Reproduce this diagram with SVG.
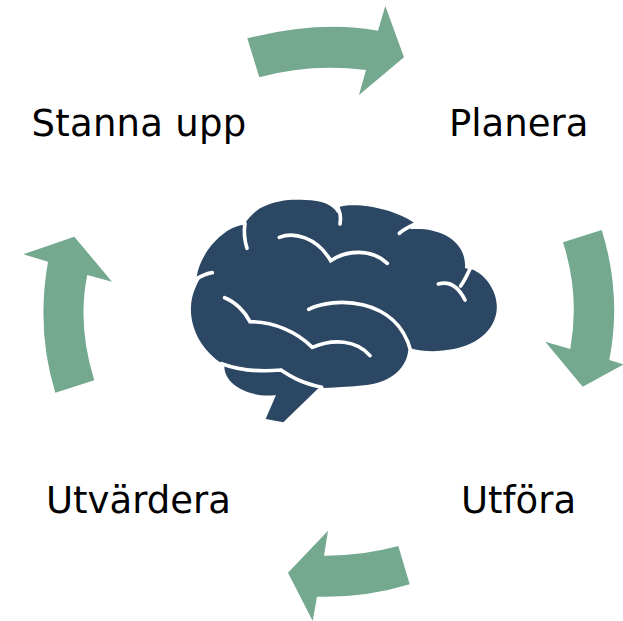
<svg xmlns="http://www.w3.org/2000/svg" width="623" height="621" viewBox="0 0 623 621">
<style>
.arrow{fill:#74a98f}
.label{font-family:"DejaVu Sans",Verdana,sans-serif;font-size:37px;fill:#000}
.groove{fill:none;stroke:#fff;stroke-width:11;stroke-linecap:round;stroke-linejoin:miter}
</style>
<rect width="623" height="621" fill="#fff"/>
<g id="connectors">
<path class="arrow" d="M247.3 38.3Q320 20 378 30.7L385.3 6L404 57.3L359 95L366 70Q310 63 259.3 77.3Z"/>
<path class="arrow" d="M563 242.3L601.7 230Q622 295 609.3 360L623 364.3V364.8L582.7 386.7L545.3 341.7L570.3 349Q580 295 563 242.3Z"/>
<path class="arrow" d="M398.3 546L409.7 584.3Q365 598 317 596.7L312.7 621L288 572.7L328 530.7L324 555.7Q362 556 398.3 546Z"/>
<path class="arrow" d="M55.3 392.7L94.3 380.3Q77 325 87.3 275L112 281.7L74.3 236.7L23.3 254.3L48 261.7Q36 330 55.3 392.7Z"/>
</g>
<g id="brain" transform="translate(180 190) scale(.33333)">
<path fill="#2b4764" d="M190 105C205 90 205 80 240 55C290 28 340 28 375 30C425 30 460 45 472 70L480 50C540 35 650 60 705 100L690 118C760 110 860 140 855 235L875 238C920 255 955 310 950 360C945 420 890 470 800 480C760 487 720 482 697 476L685 480C680 530 640 575 560 585C510 591 460 592 415 595L310 697L257 687L288 615C220 625 130 590 133 525C60 480 30 410 33 350C35 310 50 285 60 265L50 260C60 190 130 110 190 105Z"/>
<path class="groove" d="M195 100C190 130 195 155 201 175"/>
<path class="groove" d="M470 47C482 65 483 85 480 102"/>
<path class="groove" d="M715 97C690 110 670 118 658 130"/>
<path class="groove" d="M298 142C340 125 410 140 452 212C500 180 575 175 622 220"/>
<path class="groove" d="M40 272C60 260 80 250 97 248"/>
<path class="groove" d="M872 232C862 255 855 270 842 288"/>
<path class="groove" d="M775 282C810 272 835 290 855 330"/>
<path class="groove" d="M134 323C165 335 195 365 210 395C280 395 350 425 397 472C460 445 530 450 570 497"/>
<path class="groove" d="M386 358C460 320 650 320 692 482"/>
<path class="groove" d="M125 521C190 545 250 545 303 540C340 565 370 580 425 592"/>
</g>
<g id="stanna"><text class="label" x="31.5" y="136" letter-spacing=".25">Stanna upp</text></g>
<g id="planera"><text class="label" x="449" y="136">Planera</text></g>
<g id="utfora"><text class="label" x="461" y="513">Utföra</text></g>
<g id="utvardera"><text class="label" x="46" y="513">Utvärdera</text></g>
</svg>
